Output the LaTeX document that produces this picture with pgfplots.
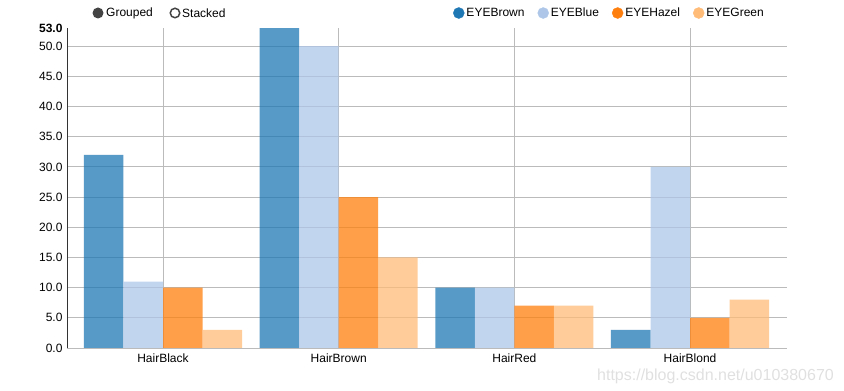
\documentclass[border=0pt]{standalone}
\usepackage{pgfplots}
\pgfplotsset{compat=1.18}
\usepackage{fontspec}
\setmainfont{Liberation Sans}
\definecolor{cEB}{HTML}{1F77B4}
\definecolor{cEBl}{HTML}{AEC7E8}
\definecolor{cEH}{HTML}{FF7F0E}
\definecolor{cEG}{HTML}{FFBB78}
\definecolor{gridc}{HTML}{BBBBBB}
\definecolor{ctrl}{HTML}{444444}
\begin{document}
\begin{tikzpicture}[font=\fontsize{12}{14}\selectfont]
\path[use as bounding box] (-67pt,-43pt) rectangle (777pt,348pt);
\begin{axis}[
  at={(0pt,0pt)}, anchor=south west,
  scale only axis, width=720pt, height=320pt,
  ymin=0, ymax=53,
  xmin=-0.5465, xmax=3.552,
  ybar, bar width=0.225,
  xtick={0,1,2,3},
  xticklabels={HairBlack,HairBrown,HairRed,HairBlond},
  ytick={0,5,...,50},
  extra y ticks={53},
  extra y tick labels={\textbf{53.0}},
  extra y tick style={grid=none},
  yticklabel={\pgfmathprintnumber[fixed,fixed zerofill,precision=1,assume math mode=true]{\tick}},
  major tick length=0pt,
  xmajorgrids, ymajorgrids,
  grid style={gridc, line width=0.8pt},
  axis lines*=left,
  x axis line style={gridc,-, line width=0.8pt},
  y axis line style={black!80,-, line width=0.8pt},
  xticklabel style={yshift=-2pt},
  yticklabel style={xshift=-1pt},
  legend columns=4,
  legend style={at={(1,1)}, anchor=east, xshift=-21pt, yshift=15pt,
    draw=none, fill=none, inner sep=0pt,
    /tikz/every even column/.append style={column sep=11pt}},
  legend cell align=left,
]
\addplot[fill=cEB, fill opacity=0.75, draw=none, bar shift=-0.3375, forget plot] coordinates {(0,32) (1,53) (2,10) (3,3)};
\addplot[fill=cEBl, fill opacity=0.75, draw=none, bar shift=-0.1125, forget plot] coordinates {(0,11) (1,50) (2,10) (3,30)};
\addplot[fill=cEH, fill opacity=0.75, draw=none, bar shift=0.1125, forget plot] coordinates {(0,10) (1,25) (2,7) (3,5)};
\addplot[fill=cEG, fill opacity=0.75, draw=none, bar shift=0.3375, forget plot] coordinates {(0,3) (1,15) (2,7) (3,8)};
\addlegendimage{legend image code/.code={\fill[cEB] (5.5pt,0pt) circle (5.5pt);}}
\addlegendentry{EYEBrown}
\addlegendimage{legend image code/.code={\fill[cEBl] (5.5pt,0pt) circle (5.5pt);}}
\addlegendentry{EYEBlue}
\addlegendimage{legend image code/.code={\fill[cEH] (5.5pt,0pt) circle (5.5pt);}}
\addlegendentry{EYEHazel}
\addlegendimage{legend image code/.code={\fill[cEG] (5.5pt,0pt) circle (5.5pt);}}
\addlegendentry{EYEGreen}
\end{axis}
\fill[ctrl] (31pt,335pt) circle (5.5pt);
\node[anchor=west, inner sep=0pt] at (39pt,335pt) {Grouped};
\draw[ctrl, line width=1.5pt] (108pt,335pt) circle (4.75pt);
\node[anchor=west, inner sep=0pt] at (115pt,335pt) {Stacked};
\node[anchor=west, inner sep=0pt, text=black!12, font=\fontsize{16}{18}\selectfont] at (530pt,-28pt) {https://blog.csdn.net/u010380670};
\end{tikzpicture}
\end{document}
